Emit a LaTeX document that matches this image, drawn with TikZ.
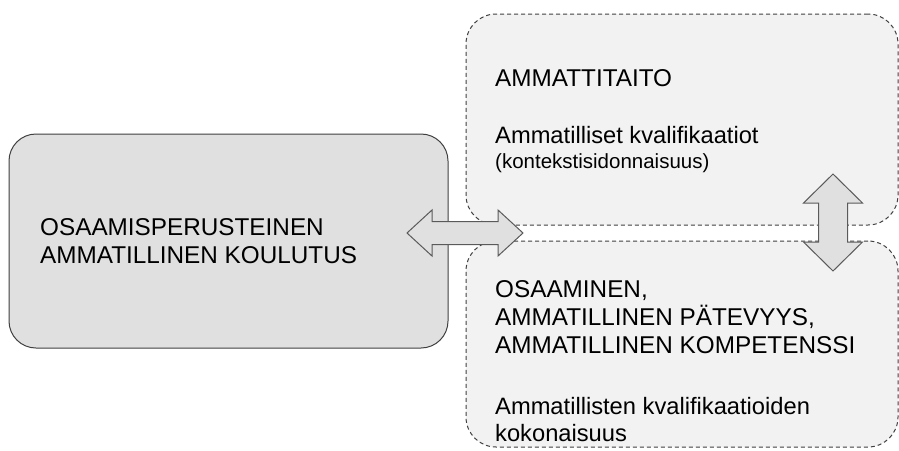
\documentclass[tikz,border=0pt]{standalone}
\usepackage{fontspec}
\setmainfont{Liberation Sans}
\usetikzlibrary{calc}
\definecolor{boxline}{HTML}{404040}
\definecolor{leftfill}{HTML}{E0E0E0}
\definecolor{rightfill}{HTML}{F2F2F2}
\definecolor{arrowline}{HTML}{5A5A5A}
\definecolor{arrowfill}{HTML}{E0E0E0}
\begin{document}
\begin{tikzpicture}[x=1pt,y=-1pt,
  solidbox/.style={draw=boxline, fill=leftfill, line width=1pt, rounded corners=27pt, inner sep=0pt},
  dashbox/.style={draw=boxline, fill=rightfill, line width=1pt, dash pattern=on 4pt off 3pt, rounded corners=30pt, inner sep=0pt},
  blockarrow/.style={draw=arrowline, fill=arrowfill, line width=1pt, line join=miter},
  txt/.style={anchor=base west, inner sep=0pt, text=black, font=\fontsize{23.7}{28}\selectfont},
  caps/.style={txt, font=\fontsize{24.3}{28}\selectfont},
  small/.style={txt, font=\fontsize{20.5}{24}\selectfont}]
\useasboundingbox[fill=white] (0,0) rectangle (899,450);

% boxes
\node[solidbox, minimum width=439pt, minimum height=214pt] (koulutus) at (228.5,241) {};
\node[dashbox, minimum width=432pt, minimum height=211pt] (ammattitaito) at (682,119.5) {};
\node[dashbox, minimum width=432pt, minimum height=206pt] (osaaminen) at (682,344) {};

% texts of the left box
\node[caps] (k1) at (40,235) {OSAAMISPERUSTEINEN};
\node[caps] (k2) at (40,263) {AMMATILLINEN KOULUTUS};

% texts of the upper right box
\node[caps] (a1) at (495,86) {AMMATTITAITO};
\node[txt] (a2) at (495,143) {Ammatilliset kvalifikaatiot};
\node[small] (a3) at (495,168) {(kontekstisidonnaisuus)};

% texts of the lower right box
\node[caps] (o1) at (495,297) {OSAAMINEN,};
\node[caps] (o2) at (495,325) {AMMATILLINEN PÄTEVYYS,};
\node[caps] (o3) at (495,353) {AMMATILLINEN KOMPETENSSI};
\node[txt] (o4) at (495,414) {Ammatillisten kvalifikaatioiden};
\node[txt] (o5) at (495,441) {kokonaisuus};

% horizontal two-way block arrow between the left box and the right column
\coordinate (hl) at (407,233);
\coordinate (hr) at (523,233);
\draw[blockarrow] (hl) -- ++(25,-23) -- ++(0,11.5) -- ($(hr)+(-25,-11.5)$) -- ++(0,-11.5) -- (hr)
  -- ++(-25,23) -- ++(0,-11.5) -- ($(hl)+(25,11.5)$) -- ++(0,11.5) -- cycle;

% vertical two-way block arrow between the two right boxes
\coordinate (vt) at (833,174);
\coordinate (vb) at (833,271);
\draw[blockarrow] (vt) -- ++(29.5,29) -- ++(-15,0) -- ($(vb)+(14.5,-29)$) -- ++(15,0) -- (vb)
  -- ++(-29.5,-29) -- ++(15,0) -- ($(vt)+(-14.5,29)$) -- ++(-15,0) -- cycle;
\end{tikzpicture}
\end{document}
